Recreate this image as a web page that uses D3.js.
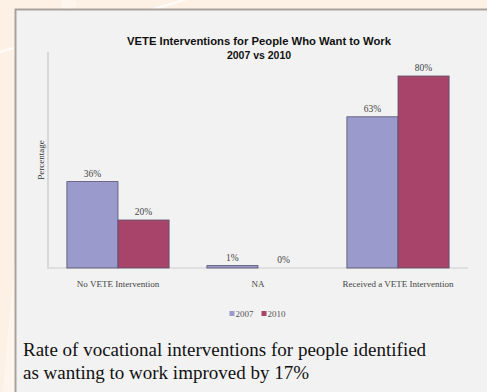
<!DOCTYPE html>
<html>
<head>
<meta charset="utf-8">
<script src="https://cdn.jsdelivr.net/npm/d3@7"></script>
<style>
  body { margin: 0; background: #fdf1e5; }
  svg { display: block; }
</style>
</head>
<body>
<svg id="chart" width="487" height="392"></svg>
<script>
// data
var categories = ["No VETE Intervention", "NA", "Received a VETE Intervention"];
var years = ["2007", "2010"];
var values2007 = [36, 1, 63];
var values2010 = [20, 0, 80];
var valueLabels2007 = ["36%", "1%", "63%"];
var valueLabels2010 = ["20%", "0%", "80%"];
var colors = ["#9a9acc", "#a8446a"];

var svg = d3.select("#chart");

// peach slide background with faint white swooshes
svg.append("rect").attr("width", 487).attr("height", 392).attr("fill", "#fdf1e5");
svg.append("path")
  .attr("d", "M0,52 C40,40 120,20 200,-5")
  .attr("fill", "none").attr("stroke", "#ffffff").attr("stroke-width", 2).attr("opacity", 0.8);
svg.append("path")
  .attr("d", "M10,392 C20,250 40,120 70,0")
  .attr("fill", "none").attr("stroke", "#ffffff").attr("stroke-width", 14).attr("opacity", 0.35);

// grey panel
svg.append("rect")
  .attr("x", 15.5).attr("y", 9.5).attr("width", 480).attr("height", 400)
  .attr("fill", "#f2f2f2").attr("stroke", "#a9a29b").attr("stroke-width", 2);

var x0 = d3.scaleBand().domain(categories).range([48, 468]).paddingInner(0.27).paddingOuter(0.135);
var x1 = d3.scaleBand().domain(years).range([0, x0.bandwidth()]);
var y = d3.scaleLinear().domain([0, 90]).range([268, 52]);

// axes lines
svg.append("line").attr("x1", 48).attr("x2", 48).attr("y1", y(90)).attr("y2", y(0))
  .attr("stroke", "#d8d8d8").attr("stroke-width", 2);
svg.append("line").attr("x1", 47).attr("x2", 468).attr("y1", y(0)).attr("y2", y(0))
  .attr("stroke", "#d8d8d8").attr("stroke-width", 1.5);

var rows = categories.map(function(c, i) {
  return {cat: c, vals: [
    {year: years[0], v: values2007[i], label: valueLabels2007[i], color: colors[0]},
    {year: years[1], v: values2010[i], label: valueLabels2010[i], color: colors[1]}
  ]};
});

var groups = svg.selectAll("g.group").data(rows).enter().append("g")
  .attr("class", "group")
  .attr("transform", function(d) { return "translate(" + x0(d.cat) + ",0)"; });

groups.selectAll("rect").data(function(d) { return d.vals.filter(function(e) { return e.v > 0; }); })
  .enter().append("rect")
  .attr("x", function(d) { return x1(d.year); })
  .attr("y", function(d) { return y(d.v); })
  .attr("width", x1.bandwidth())
  .attr("height", function(d) { return y(0) - y(d.v); })
  .attr("fill", function(d) { return d.color; })
  .attr("stroke", "#55506a").attr("stroke-width", 0.8);

groups.selectAll("text").data(function(d) { return d.vals; })
  .enter().append("text")
  .attr("x", function(d) { return x1(d.year) + x1.bandwidth() / 2; })
  .attr("y", function(d) { return y(d.v) - 5; })
  .attr("text-anchor", "middle")
  .attr("font-family", "Liberation Serif, serif").attr("font-size", 9.5)
  .attr("fill", "#444").text(function(d) { return d.label; });

// category labels
svg.selectAll("text.cat").data(categories).enter().append("text")
  .attr("class", "cat")
  .attr("x", function(d) { return x0(d) + x0.bandwidth() / 2; })
  .attr("y", 287)
  .attr("text-anchor", "middle")
  .attr("font-family", "Liberation Serif, serif").attr("font-size", 9)
  .attr("fill", "#444").text(function(d) { return d; });

// y label
svg.append("text")
  .attr("transform", "translate(44,160) rotate(-90)")
  .attr("text-anchor", "middle")
  .attr("font-family", "Liberation Serif, serif").attr("font-size", 9)
  .attr("fill", "#333").text("Percentage");

// title
var title = svg.append("text").attr("text-anchor", "middle")
  .attr("font-family", "Liberation Sans, Arial, sans-serif").attr("font-weight", "bold")
  .attr("font-size", 10.5).attr("fill", "#111");
title.append("tspan").attr("x", 259).attr("y", 45)
  .attr("textLength", 264).attr("lengthAdjust", "spacingAndGlyphs")
  .text("VETE Interventions for People Who Want to Work");
title.append("tspan").attr("x", 259).attr("y", 59).text("2007 vs 2010");

// legend
var legend = svg.selectAll("g.legend").data(years).enter().append("g")
  .attr("class", "legend")
  .attr("transform", function(d, i) { return "translate(" + (229.5 + i * 32) + ",311)"; });
legend.append("rect").attr("width", 5).attr("height", 5)
  .attr("fill", function(d, i) { return colors[i]; });
legend.append("text").attr("x", 6).attr("y", 6)
  .attr("font-family", "Liberation Serif, serif").attr("font-size", 9)
  .attr("fill", "#555").text(function(d) { return d; });

// caption
var caption = svg.append("text")
  .attr("font-family", "Liberation Serif, Times New Roman, serif").attr("font-size", 19)
  .attr("fill", "#111");
caption.append("tspan").attr("x", 23).attr("y", 356).text("Rate of vocational interventions for people identified");
caption.append("tspan").attr("x", 23).attr("y", 379).text("as wanting to work improved by 17%");
</script>
</body>
</html>
